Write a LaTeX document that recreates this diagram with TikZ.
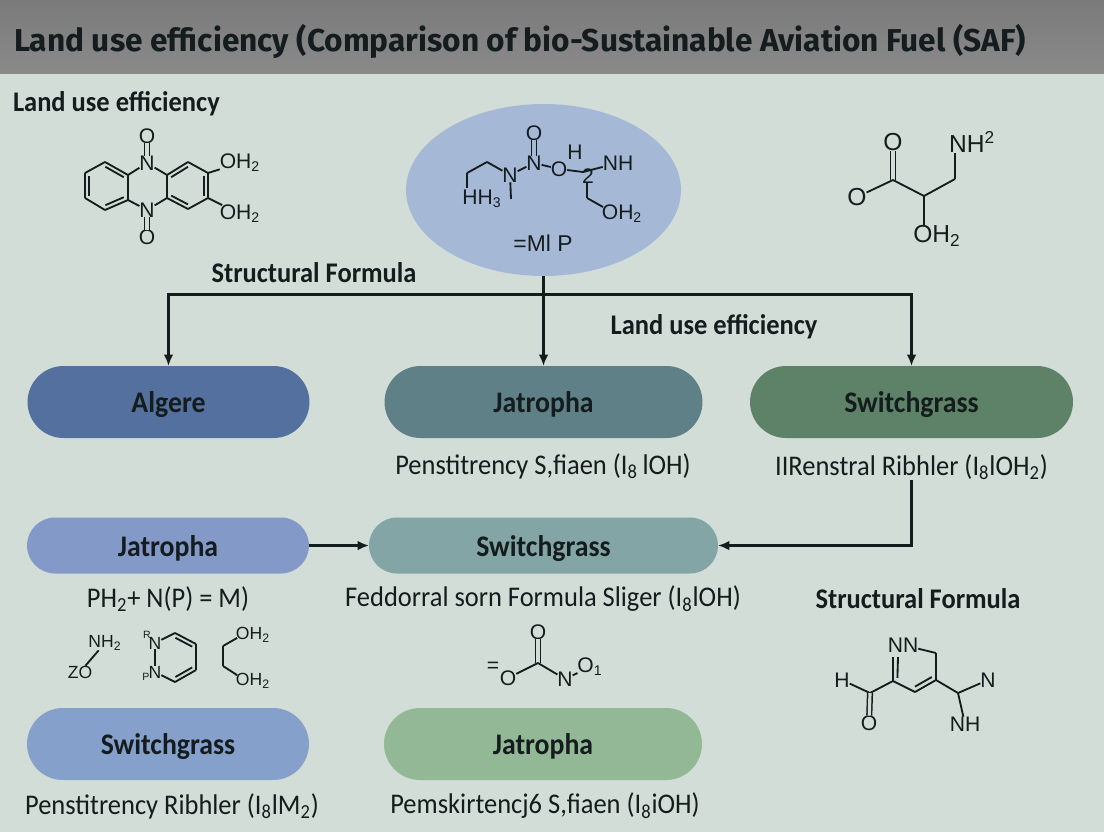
\documentclass[tikz,border=0pt]{standalone}
\usepackage{fontspec}
\setmainfont{Carlito}[FakeStretch=0.93]
\newfontfamily\headfont{Fira Sans}
\newfontfamily\atomfont{Liberation Sans}
\usetikzlibrary{positioning,calc,arrows.meta,shapes.misc,shapes.geometric}
\definecolor{pagebg}{HTML}{D1DDD6}
\definecolor{mlpblue}{HTML}{A5B9D6}
\definecolor{ink}{HTML}{151C1E}
\begin{document}
\begin{tikzpicture}[
          x=0.02cm,y=-0.02cm,
          every node/.style={text=ink,inner sep=0pt,outer sep=0pt},
          atom/.style={font=\atomfont\fontsize{12}{13}\selectfont},
          bigatom/.style={font=\atomfont\fontsize{14}{15}\selectfont},
          smallatom/.style={font=\atomfont\fontsize{10}{11}\selectfont},
          tinyatom/.style={font=\atomfont\fontsize{6}{7}\selectfont},
          bond/.style={ink,line width=1.05pt},
          dbond/.style={ink,line width=0.85pt,double=pagebg,double distance=1.8pt},
          link/.style={ink,line width=1.25pt,-{Latex[length=6.5pt,width=5.5pt]}},
          pill/.style={rounded rectangle,font=\fontsize{17}{18}\selectfont\bfseries,minimum height=1.44cm,text height=14pt,text depth=1.6pt},
          thinpill/.style={pill,minimum height=1.12cm},
          note/.style={font=\fontsize{16.2}{18}\selectfont},
          head/.style={font=\fontsize{16.2}{18}\selectfont\bfseries},
        ]
        \useasboundingbox (0,0) rectangle (1104,832);
        \fill[pagebg] (0,0) rectangle (1104,832);
        \fill[top color=black!52,bottom color=black!46,draw=none] (0,0) rectangle (1104,73);
        \node[anchor=west,font=\headfont\fontsize{18}{20}\selectfont\bfseries] (title) at (14,41)
          {Land use efficiency (Comparison of bio-Sustainable Aviation Fuel (SAF)};
        \node[head,anchor=west] (landa) at (13,104) {Land use efficiency};
        \node[head] (structa) at (314,273) {Structural Formula};
        \node[head] (landb) at (714,327) {Land use efficiency};
        \node[head] (structb) at (918,599) {Structural Formula};

        \node[ellipse,fill=mlpblue,minimum width=5.5cm,minimum height=3.44cm] (mlp) at (543.5,190) {};
        \node[pill,fill={rgb,255:red,84;green,112;blue,158},minimum width=5.64cm] (algere) at (168.5,402) {Algere};
        \node[pill,fill={rgb,255:red,95;green,128;blue,135},minimum width=6.36cm] (jatropha) at (543.5,402) {Jatropha};
        \node[pill,fill={rgb,255:red,93;green,130;blue,104},minimum width=6.46cm] (switch) at (911.5,402) {Switchgrass};
        \node[thinpill,fill={rgb,255:red,131;green,153;blue,200},minimum width=5.64cm] (jatrophab) at (168,545.5) {Jatropha};
        \node[thinpill,fill={rgb,255:red,131;green,165;blue,165},minimum width=6.98cm] (switchb) at (543.5,545.5) {Switchgrass};
        \node[pill,fill={rgb,255:red,133;green,160;blue,203},minimum width=5.64cm] (switchc) at (168,744) {Switchgrass};
        \node[pill,fill={rgb,255:red,147;green,184;blue,150},minimum width=6.36cm] (jatrophac) at (543,744) {Jatropha};

        \node[note] (penst) at (543,466) {Penstitrency S,fiaen (I\textsubscript{8}\,lOH)};
        \node[note] (renst) at (911.5,467) {IIRenstral Ribhler (I\textsubscript{8}lOH\textsubscript{2})};
        \node[note] (phn) at (168,599) {PH\textsubscript{2}+ N(P) = M)};
        \node[note] (fedd) at (543,599) {Feddorral sorn Formula Sliger (I\textsubscript{8}lOH)};
        \node[note] (pribh) at (172,806) {Penstitrency Ribhler (I\textsubscript{8}lM\textsubscript{2})};
        \node[note] (pemsk) at (545,806) {Pemskirtencj6 S,fiaen (I\textsubscript{8}iOH)};

        \coordinate (bus) at (543.5,294.5);
        \draw[bond,line width=1.25pt] (mlp.south) -- (bus);
        \draw[link] (bus) -| (algere.north);
        \draw[link] (bus) -- (jatropha.north);
        \draw[link] (bus) -| (switch.north);
        \draw[link] (jatrophab.east) -- (switchb.west);
        \draw[link] (renst.south) |- (switchb.east);

        \foreach \n/\x/\y in {a1/105/162,a2/128/175,a3/128/200,a4/105/210,a5/85/198,a6/85/173,
            a7/167/175,a8/188/162,a9/208/173,a10/208/198,a11/188/209,a12/167/198,la/107/186,ra/188/186} {
          \coordinate (\n) at (\x,\y);
        }
        \node[atom] (an) at (147,163) {N};
        \node[atom] (am) at (147,210) {N};
        \node[atom] (ao) at (147,136) {O};
        \node[atom] (ap) at (147,237) {O};
        \node[atom] (ah) at (240,163) {OH\textsubscript{2}};
        \node[atom] (ai) at (240,214) {OH\textsubscript{2}};
        \foreach \a/\b in {a1/a2,a2/a3,a3/a4,a4/a5,a5/a6,a6/a1,a7/a8,a8/a9,a9/a10,a10/a11,a11/a12,a12/a7,
            a2/an,a7/an,a3/am,a12/am,a9/ah,a10/ai} {
          \draw[bond] (\a) -- (\b);
        }
        \foreach \a/\b/\c in {a1/a2/la,a3/a4/la,a5/a6/la,a7/a8/ra,a9/a10/ra,a11/a12/ra} {
          \draw[bond] ($(\a)!.2!(\c)$) -- ($(\b)!.2!(\c)$);
        }
        \draw[dbond] (an) -- (ao);
        \draw[dbond] (am) -- (ap);

        \foreach \n/\x/\y in {b1/467/188,b2/467/173,b3/487/162,b4/511/199,b5/583/172,b6/587/182,b7/587/198,b8/603/207} {
          \coordinate (\n) at (\x,\y);
        }
        \node[atom] (bh) at (482,199) {HH\textsubscript{3}};
        \node[atom] (bn) at (510,175) {N};
        \node[atom] (bm) at (534,163) {N};
        \node[atom] (bo) at (534,133) {O};
        \node[atom] (bp) at (559,169) {O};
        \node[atom] (bq) at (575,152) {H};
        \node[atom] (br) at (618,163) {NH};
        \node[atom] (bt) at (588,176) {2};
        \node[atom] (bs) at (622,214) {OH\textsubscript{2}};
        \node[font=\atomfont\fontsize{13}{14}\selectfont] (bl) at (543,243) {=Ml P};
        \foreach \a/\b in {b1/b2,b2/b3,b3/bn,bn/b4,bn/bm,bm/bp,bp/b5,b5/br,b6/b7,b7/b8} {
          \draw[bond] (\a) -- (\b);
        }
        \draw[dbond,double=mlpblue] (bm) -- (bo);

        \foreach \n/\x/\y in {c1/893/180,c2/924/196,c3/955/179} {
          \coordinate (\n) at (\x,\y);
        }
        \node[bigatom] (co) at (893,142) {O};
        \node[bigatom] (cp) at (857,197) {O};
        \node[bigatom] (cn) at (972,142) {NH\textsuperscript{2}};
        \node[bigatom] (ch) at (937,236) {OH\textsubscript{2}};
        \draw[dbond] (c1) -- (co);
        \draw[bond] (c1) -- (cp);
        \draw[bond] (c1) -- (c2);
        \draw[bond] (c2) -- (c3);
        \draw[bond] (c3) -- (c3 |- cn.south);
        \draw[bond] (c2) -- (c2 |- ch.north);

        \foreach \n/\x/\y in {d1/175/633,d2/196/644,d3/196/670,d4/175/682,d5/237/638,d6/223/646,d7/223/666,d8/237/675,dr/177/657} {
          \coordinate (\n) at (\x,\y);
        }
        \node[smallatom] (dn) at (105,643) {NH\textsubscript{2}};
        \node[smallatom] (dz) at (80,672) {ZO};
        \node[smallatom] (dm) at (155,643) {N};
        \node[smallatom] (dk) at (155,672) {N};
        \node[tinyatom] (dq) at (147,635) {R};
        \node[tinyatom] (dp) at (146,677) {P};
        \node[smallatom] (de) at (253,635) {OH\textsubscript{2}};
        \node[smallatom] (df) at (253,681) {OH\textsubscript{2}};
        \foreach \a/\b in {dn/dz,dm/dk,dm/d1,d1/d2,d2/d3,d3/d4,d4/dk,de/d5,d5/d6,d6/d7,d7/d8,d8/df} {
          \draw[bond] (\a) -- (\b);
        }
        \foreach \a/\b/\c in {d1/d2/dr,d3/d4/dr} {
          \draw[bond] ($(\a)!.2!(\c)$) -- ($(\b)!.2!(\c)$);
        }

        \coordinate (e1) at (538,663);
        \node[atom] (eo) at (538,632) {O};
        \node[atom] (ep) at (508,678) {O};
        \node[atom] (ee) at (493,667) {=};
        \node[atom] (en) at (565,679) {N};
        \node[atom] (ef) at (590,667) {O\textsubscript{1}};
        \draw[dbond] (e1) -- (eo);
        \draw[bond] (e1) -- (ep);
        \draw[bond] (e1) -- (en);
        \draw[bond] (en) -- (ef);

        \foreach \n/\x/\y in {f1/870/693,f2/893/681,f3/915/692,f4/936/680,f5/936/653,f6/958/693,fr/915/665,fa/893/657,fb/898/657} {
          \coordinate (\n) at (\x,\y);
        }
        \node[atom] (fm) at (903,645) {NN};
        \node[atom] (fh) at (842,680) {H};
        \node[atom] (fo) at (869,723) {O};
        \node[atom] (fk) at (965,724) {NH};
        \node[atom] (fn) at (988,680) {N};
        \foreach \a/\b in {fh/f1,f1/f2,f2/f3,f3/f4,f4/f5,f5/fm,f4/f6,f6/fk,f6/fn} {
          \draw[bond] (\a) -- (\b);
        }
        \draw[bond] (fa) -- (f2);
        \draw[bond] (fb) -- ($(f2)!.2!(fr)$);
        \draw[bond] ($(f3)!.2!(fr)$) -- ($(f4)!.2!(fr)$);
        \draw[dbond] (f1) -- (fo);
      \end{tikzpicture}
\end{document}
